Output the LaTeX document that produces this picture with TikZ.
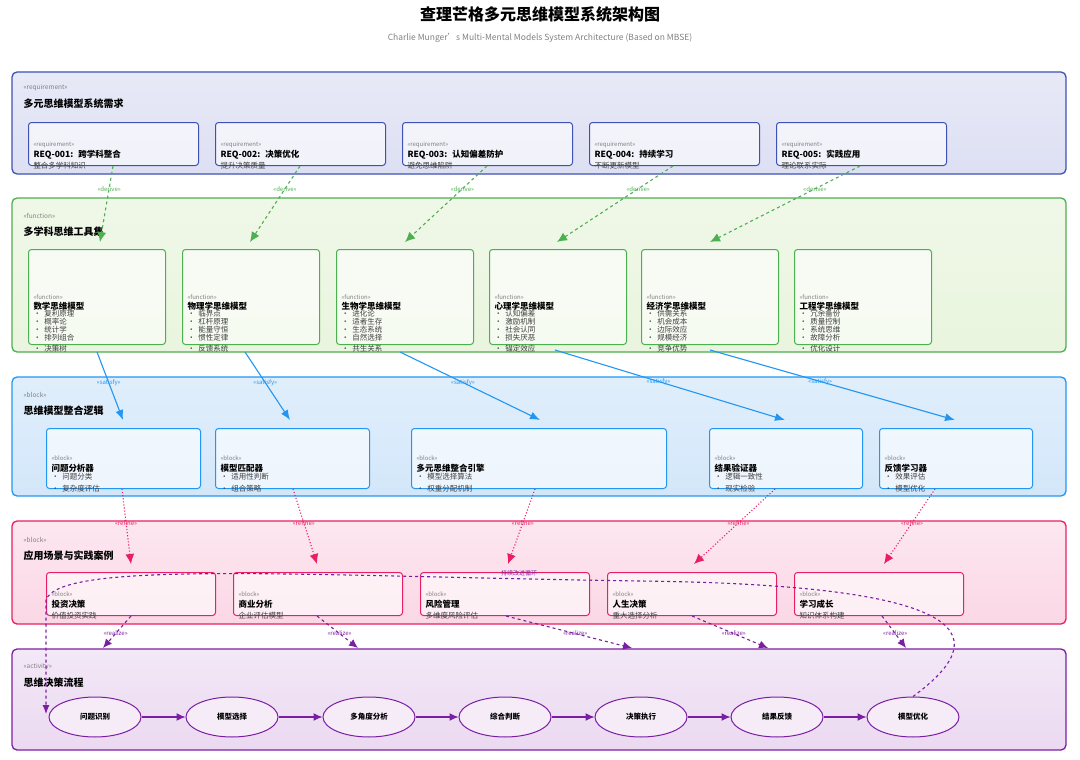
\documentclass[tikz,border=0pt]{standalone}
\usepackage{fontspec}
\setmainfont{Noto Sans CJK SC}
\usetikzlibrary{arrows.meta,positioning}
\definecolor{reqC}{HTML}{3F51B5}\definecolor{reqF}{HTML}{DDE0F3}
\definecolor{funC}{HTML}{4CAF50}\definecolor{funF}{HTML}{E9F5DE}
\definecolor{blkC}{HTML}{2196F3}\definecolor{blkF}{HTML}{D3E7FA}
\definecolor{refC}{HTML}{E91E63}\definecolor{refF}{HTML}{FBD7E5}
\definecolor{actC}{HTML}{7B1FA2}\definecolor{actF}{HTML}{EBD9F1}
\tikzset{
  group/.style={draw=#1, line width=1.3pt, rounded corners=5pt},
  box/.style={draw=#1, line width=1pt, rounded corners=3pt, fill=white, fill opacity=0.6, text opacity=1,
    anchor=north west, align=left, inner sep=4pt, text depth=0pt},
  stereo/.style={font=\fontsize{6.5}{7}\selectfont\itshape, text=gray},
  lbl/.style={font=\fontsize{6}{7}\selectfont, text=#1},
  flow/.style={ellipse, draw=actC, line width=1pt, fill=actF!50, minimum width=92pt, minimum height=40pt,
    font=\fontsize{7.5}{8}\selectfont\bfseries},
}
\usetikzlibrary{shapes.geometric}
\newcommand{\bx}[3]{{\fontsize{6}{7}\selectfont\itshape\color{gray}«#1»}\\[-1pt]{\fontsize{8.5}{10}\selectfont\bfseries #2}\\[-1pt]{\fontsize{7.5}{9}\selectfont\color{darkgray}#3}}
\newcommand{\grp}[3]{\node[stereo, anchor=west] at (#1) {«#2»};\node[anchor=west, font=\fontsize{10}{11}\selectfont\bfseries] at ($(#1)+(0,16)$) {#3};}
\usetikzlibrary{calc}
\begin{document}
\begin{tikzpicture}[x=1pt,y=-1pt]
  \useasboundingbox (0,0) rectangle (1080,760);
  \node[font=\fontsize{16}{18}\selectfont\bfseries] (title) at (540,14) {查理芒格多元思维模型系统架构图};
  \node[font=\fontsize{8.5}{10}\selectfont, text=gray] (sub) at (540,38) {Charlie Munger's Multi-Mental Models System Architecture (Based on MBSE)};

  % containers
  \draw[group=reqC, top color=reqF!70, bottom color=reqF] (12,72) rectangle (1066,174);
  \draw[group=funC, top color=funF!70, bottom color=funF] (12,198) rectangle (1066,352);
  \draw[group=blkC, top color=blkF!70, bottom color=blkF] (12,377) rectangle (1066,496);
  \draw[group=refC, top color=refF!60, bottom color=refF] (12,521) rectangle (1066,624);
  \draw[group=actC, top color=actF!60, bottom color=actF] (12,649) rectangle (1066,750);
  \grp{20,88}{requirement}{多元思维模型系统需求}
  \grp{20,216}{function}{多学科思维工具集}
  \grp{20,395}{block}{思维模型整合逻辑}
  \grp{20,540}{block}{应用场景与实践案例}
  \grp{20,667}{activity}{思维决策流程}

  % requirements
  \foreach \i/\x/\t/\d in {1/28/REQ-001: 跨学科整合/整合多学科知识, 2/215/REQ-002: 决策优化/提升决策质量,
      3/402/REQ-003: 认知偏差防护/避免思维陷阱, 4/589/REQ-004: 持续学习/不断更新模型, 5/776/REQ-005: 实践应用/理论联系实际}
    \node[box=reqC, minimum width=170pt, minimum height=43pt, text width=160pt] (req\i) at (\x,122) {\bx{requirement}{\t}{\d}};

  % functions
  \foreach \i/\x/\t/\d in {1/28/数学思维模型/{• 复利原理\\• 概率论\\• 统计学\\• 排列组合\\• 决策树},
      2/182/物理学思维模型/{• 临界点\\• 杠杆原理\\• 能量守恒\\• 惯性定律\\• 反馈系统},
      3/336/生物学思维模型/{• 进化论\\• 适者生存\\• 生态系统\\• 自然选择\\• 共生关系},
      4/489/心理学思维模型/{• 认知偏差\\• 激励机制\\• 社会认同\\• 损失厌恶\\• 锚定效应},
      5/641/经济学思维模型/{• 供需关系\\• 机会成本\\• 边际效应\\• 规模经济\\• 竞争优势},
      6/794/工程学思维模型/{• 冗余备份\\• 质量控制\\• 系统思维\\• 故障分析\\• 优化设计}}
    \node[box=funC, minimum width=137pt, minimum height=95pt, text width=127pt, font=\linespread{0.9}\selectfont] (fun\i) at (\x,249) {\bx{function}{\t}{\d}};

  % blocks
  \foreach \i/\x/\w/\t/\d in {1/46/154/问题分析器/{• 问题分类\\• 复杂度评估}, 2/215/154/模型匹配器/{• 适用性判断\\• 组合策略},
      3/411/255/多元思维整合引擎/{• 模型选择算法\\• 权重分配机制}, 4/709/153/结果验证器/{• 逻辑一致性\\• 现实检验},
      5/879/153/反馈学习器/{• 效果评估\\• 模型优化}}
    \node[box=blkC, minimum width=\w pt, minimum height=60pt, text width=\w pt-10pt] (blk\i) at (\x,428) {\bx{block}{\t}{\d}};

  % scenarios
  \foreach \i/\x/\t/\d in {1/46/投资决策/价值投资实践, 2/233/商业分析/企业评估模型, 3/420/风险管理/多维度风险评估,
      4/607/人生决策/重大选择分析, 5/794/学习成长/知识体系构建}
    \node[box=refC, minimum width=169pt, minimum height=43pt, text width=159pt] (app\i) at (\x,572) {\bx{block}{\t}{\d}};

  % activity flow
  \foreach \i/\x/\t in {1/95/问题识别, 2/232/模型选择, 3/369/多角度分析, 4/505/综合判断, 5/641/决策执行, 6/777/结果反馈, 7/913/模型优化}
    \node[flow] (act\i) at (\x,717) {\t};
  \foreach \a/\b in {1/2,2/3,3/4,4/5,5/6,6/7}
    \draw[actC, line width=1.2pt, -{Latex[length=9pt,width=8pt]}] (act\a) -- (act\b);

  % derive
  \foreach \i/\sx/\tx in {1/113/100, 2/300/250, 3/487/405, 4/673/557, 5/860/710} {
    \coordinate (d\i) at (\tx,242);
    \draw[funC, line width=1.1pt, dashed, -{Latex[length=10pt,width=9pt]}] (req\i.south -| \sx,0) -- (d\i)
      node[pos=0.3, lbl=funC] {«derive»};
  }
  % satisfy
  \foreach \i/\sx/\tx/\sy in {1/97/123/352, 2/245/290/352, 3/400/540/352, 4/555/785/350, 5/710/955/350} {
    \coordinate (s\i) at (\tx,420);
    \draw[blkC, line width=1.1pt, -{Latex[length=10pt,width=8pt]}] (\sx,\sy) -- (s\i)
      node[pos=0.45, lbl=blkC] {«satisfy»};
  }
  % refine
  \foreach \i/\sx/\tx in {1/122/131, 2/293/317, 3/535/508, 4/775/694, 5/935/884} {
    \coordinate (f\i) at (\tx,564);
    \draw[refC, line width=1.1pt, dotted, -{Latex[length=10pt,width=9pt]}] (blk\i.south -| \sx,0) -- (f\i)
      node[pos=0.45, lbl=refC] {«refine»};
  }
  % realize
  \foreach \i/\sx/\tx in {1/131/103, 2/317/358, 3/506/632, 4/692/768, 5/882/906} {
    \coordinate (z\i) at (\tx,648);
    \draw[actC, line width=1.1pt, dashed, -{Latex[length=9pt,width=8pt]}] (app\i.south -| \sx,0) -- (z\i)
      node[pos=0.55, lbl=actC] {«realize»};
  }
  % feedback loop
  \draw[actC, line width=1.1pt, dashed, -{Latex[length=9pt,width=7pt]}] (act7.north)
    .. controls (990,640) and (990,585) .. (640,581)
    .. controls (300,576) and (60,560) .. (46,600) -- (46,714)
    node[pos=0.01, lbl=actC] {};
  \node[lbl=actC] (loop) at (519,573) {持续改进循环};
\end{tikzpicture}
\end{document}
